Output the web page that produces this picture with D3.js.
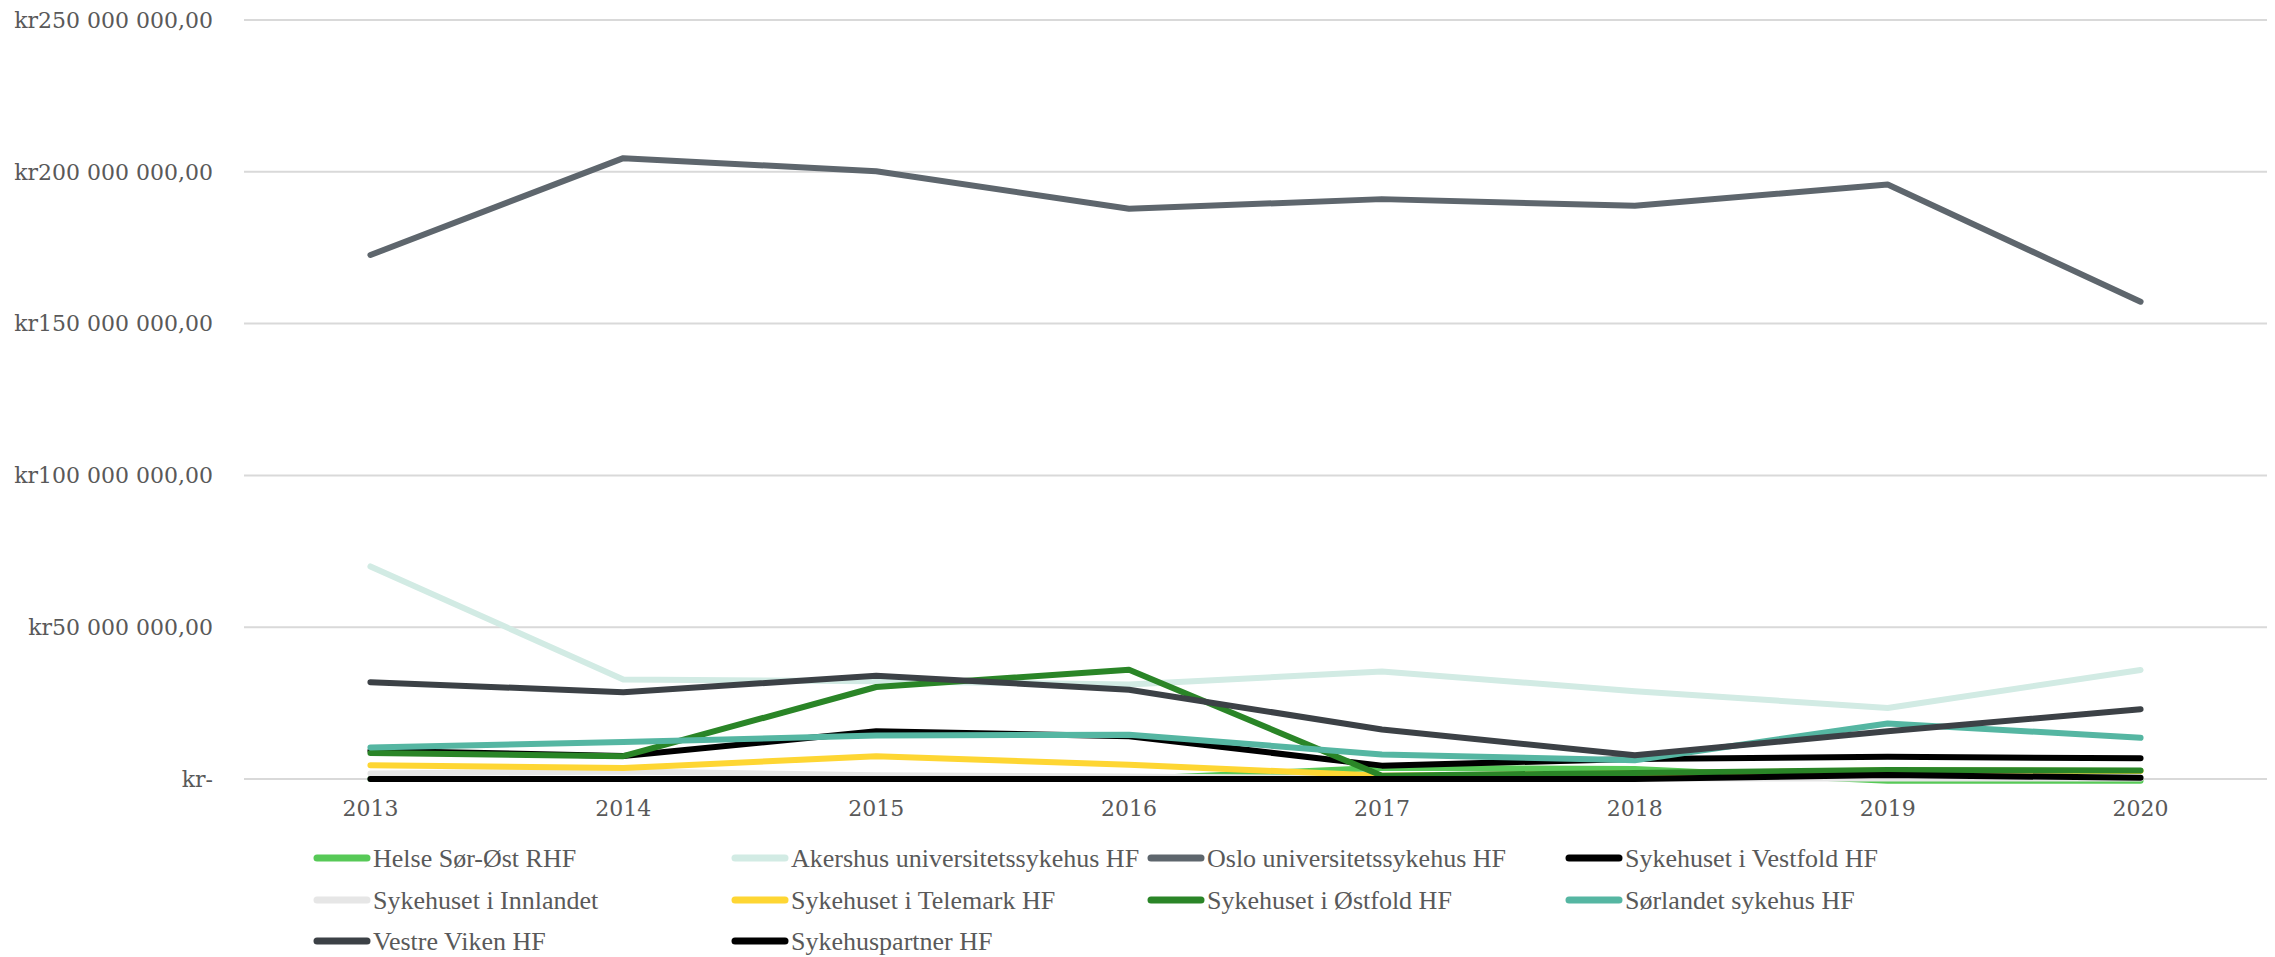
<!DOCTYPE html>
<html><head><meta charset="utf-8">
<script src="https://cdn.jsdelivr.net/npm/d3@7"></script>
<style>body{margin:0;background:#fff}svg{display:block}</style>
</head><body>
<svg id="c" width="2275" height="957"></svg>
<script>
const years = ["2013","2014","2015","2016","2017","2018","2019","2020"];
const seriesNames = ["Helse Sør-Øst RHF","Akershus universitetssykehus HF","Oslo universitetssykehus HF","Sykehuset i Vestfold HF","Sykehuset i Innlandet","Sykehuset i Telemark HF","Sykehuset i Østfold HF","Sørlandet sykehus HF","Vestre Viken HF","Sykehuspartner HF"];
const helseSorOst   = [0, 0, 0, 0, 3.7, 3.3, -0.6, -0.6];
const akershus      = [70, 32.8, 32.2, 31.1, 35.4, 28.9, 23.4, 35.9];
const oslo          = [172.6, 204.5, 200.2, 187.8, 191.0, 188.8, 195.8, 157.2];
const vestfold      = [9.3, 7.6, 15.7, 14.1, 4.4, 6.6, 7.3, 6.8];
const innlandet     = [1.8, 2.5, 1.2, 0.8, 0.3, 0.2, 0.2, 0.2];
const telemark      = [4.5, 3.6, 7.5, 4.7, 1.1, 1.8, 2.8, 2.6];
const ostfold       = [8.6, 7.5, 30.3, 36.0, 1.1, 2.0, 3.0, 2.8];
const sorlandet     = [10.4, 12.2, 14.3, 14.6, 8.1, 6.2, 18.3, 13.6];
const vestreViken   = [31.9, 28.6, 34.0, 29.4, 16.3, 7.8, 15.7, 23.0];
const sykehuspartner= [0, 0, 0, 0, 0, 0, 1.3, 0.4];
const yTicks = [0, 50, 100, 150, 200, 250];
const yTickLabels = ["kr-","kr50 000 000,00","kr100 000 000,00","kr150 000 000,00","kr200 000 000,00","kr250 000 000,00"];
const colors = ["#57c957","#d2ebe4","#5e666d","#000000","#e6e6e6","#fed633","#2a8527","#55b6a2","#3c4146","#000000"];

const values = [helseSorOst, akershus, oslo, vestfold, innlandet, telemark, ostfold, sorlandet, vestreViken, sykehuspartner];
const svg = d3.select("#c");
const fontNum = "'DejaVu Serif', serif";
const fontTxt = "'Liberation Serif', serif";
const txtCol = "#595959";

const x = d3.scaleBand().domain(years).range([244, 2267]);
const y = d3.scaleLinear().domain([0, 250]).range([779, 20]);

// gridlines
svg.append("g").selectAll("line").data(yTicks).join("line")
  .attr("x1", 244).attr("x2", 2267)
  .attr("y1", d => y(d)).attr("y2", d => y(d))
  .attr("stroke", "#d9d9d9").attr("stroke-width", 2);

// y labels
svg.append("g").selectAll("text").data(yTicks).join("text")
  .attr("x", 213).attr("y", d => y(d)).attr("dy", "0.35em")
  .attr("text-anchor", "end").attr("fill", txtCol)
  .style("font-family", fontNum).style("font-size", "22px")
  .text((d, i) => yTickLabels[i]);

// x labels
svg.append("g").selectAll("text").data(years).join("text")
  .attr("x", d => x(d) + x.bandwidth() / 2).attr("y", 808).attr("dy", "0.35em")
  .attr("text-anchor", "middle").attr("fill", txtCol)
  .style("font-family", fontNum).style("font-size", "22px")
  .text(d => d);

const line = d3.line().x((d, i) => x(years[i]) + x.bandwidth() / 2).y(d => y(d));
svg.append("g").selectAll("path").data(values).join("path")
  .attr("d", d => line(d)).attr("fill", "none")
  .attr("stroke", (d, i) => colors[i]).attr("stroke-width", 6)
  .attr("stroke-linejoin", "round").attr("stroke-linecap", "round");

// legend
const legX = [315, 733, 1149, 1567];
const legY = [858, 900, 941];
const leg = svg.append("g").selectAll("g").data(seriesNames).join("g")
  .attr("transform", (d, i) => `translate(${legX[i % 4]},${legY[Math.floor(i / 4)]})`);
leg.append("line").attr("x1", 2).attr("x2", 52).attr("y1", 0).attr("y2", 0)
  .attr("stroke", (d, i) => colors[i]).attr("stroke-width", 7).attr("stroke-linecap", "round");
leg.append("text").attr("x", 58).attr("y", 0).attr("dy", "0.35em")
  .attr("fill", txtCol).style("font-family", fontTxt).style("font-size", "26px")
  .text(d => d);
</script>
</body></html>
